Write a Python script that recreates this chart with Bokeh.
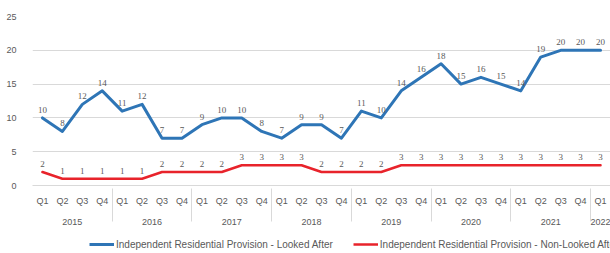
from bokeh.plotting import figure
from bokeh.layouts import column
from bokeh.models import FactorRange, ColumnDataSource, Legend, LegendItem, LabelSet, Range1d
from bokeh.embed import file_html
from bokeh.resources import INLINE

years = ["2015", "2016", "2017", "2018", "2019", "2020", "2021", "2022"]
quarters = ["Q1", "Q2", "Q3", "Q4"]
looked_after = [10, 8, 12, 14, 11, 12, 7, 7, 9, 10, 10, 8, 7, 9, 9, 7,
                11, 10, 14, 16, 18, 15, 16, 15, 14, 19, 20, 20, 20]
non_looked_after = [2, 1, 1, 1, 1, 1, 2, 2, 2, 2, 3, 3, 3, 3, 2, 2,
                    2, 2, 3, 3, 3, 3, 3, 3, 3, 3, 3, 3, 3]
y_ticks = [0, 5, 10, 15, 20, 25]
series_names = ["Independent Residential Provision - Looked After",
                "Independent Residential Provision - Non-Looked After"]

factors = [(y, q) for y in years for q in quarters][:len(looked_after)]

FONT = "Liberation Sans"
GREY = "#595959"
BLUE = "#2E75B6"
RED = "#E8232B"

src = ColumnDataSource(dict(
    x=factors,
    la=looked_after,
    nla=non_looked_after,
    la_txt=[str(v) for v in looked_after],
    nla_txt=[str(v) for v in non_looked_after],
))

# ---- main chart ----
p = figure(width=610, height=233, output_backend="svg", toolbar_location=None,
           x_range=FactorRange(*factors, group_padding=0, factor_padding=0, range_padding=0),
           y_range=Range1d(0, 25),
           min_border_left=32, min_border_right=0, min_border_top=16, min_border_bottom=48)
p.outline_line_color = None
p.background_fill_color = "white"
p.border_fill_color = "white"

p.line("x", "la", source=src, line_color=BLUE, line_width=3, line_join="round", line_cap="round")
p.line("x", "nla", source=src, line_color=RED, line_width=2.5, line_join="round", line_cap="round")

for col in ["la", "nla"]:
    lbl = LabelSet(x="x", y=col, text=col + "_txt", source=src, text_align="center",
                   text_baseline="bottom", y_offset=5, text_font=FONT,
                   text_font_size="9px", text_color=GREY)
    p.add_layout(lbl)

p.yaxis.ticker = y_ticks
p.yaxis.axis_line_color = None
p.yaxis.major_tick_line_color = None
p.yaxis.minor_tick_line_color = None
p.yaxis.major_label_text_font = FONT
p.yaxis.major_label_text_font_size = "9px"
p.yaxis.major_label_text_color = GREY
p.yaxis.major_label_standoff = 10

p.ygrid.grid_line_color = "#d9d9d9"
p.xgrid.visible = False

ax = p.xaxis[0]
ax.axis_line_color = "#d9d9d9"
ax.major_tick_line_color = None
ax.minor_tick_line_color = None
ax.major_tick_out = 0
ax.major_tick_in = 0
ax.minor_tick_out = 0
ax.major_label_text_font = FONT
ax.major_label_text_font_size = "9px"
ax.major_label_text_color = GREY
ax.major_label_standoff = 10
ax.group_text_font = FONT
ax.group_text_font_size = "9px"
ax.group_text_font_style = "normal"
ax.group_text_color = GREY
ax.separator_line_color = "#d9d9d9"
ax.separator_line_width = 1

# ---- legend strip ----
pl = figure(width=610, height=20, output_backend="svg", toolbar_location=None,
            x_range=FactorRange(*factors, group_padding=0, factor_padding=0, range_padding=0),
            y_range=Range1d(100, 101),
            x_axis_location=None, y_axis_location=None,
            min_border_left=0, min_border_right=0, min_border_top=0, min_border_bottom=0)
pl.outline_line_color = None
pl.grid.visible = False
pl.background_fill_color = "white"
pl.border_fill_color = "white"
l1 = pl.line("x", "la", source=src, line_color=BLUE, line_width=3)
l2 = pl.line("x", "nla", source=src, line_color=RED, line_width=2.5)

legend = Legend(items=[LegendItem(label=series_names[0], renderers=[l1]),
                       LegendItem(label=series_names[1], renderers=[l2])],
                orientation="horizontal", location=(57, 3),
                label_text_font=FONT, label_text_font_size="10px", label_text_color=GREY,
                glyph_width=25, glyph_height=10, label_height=12, label_standoff=2, spacing=20,
                border_line_color=None, background_fill_alpha=0, padding=0, margin=0)
pl.add_layout(legend, "center")

layout = column(p, pl, spacing=0)

open("out.html", "w").write(file_html(layout, INLINE))
